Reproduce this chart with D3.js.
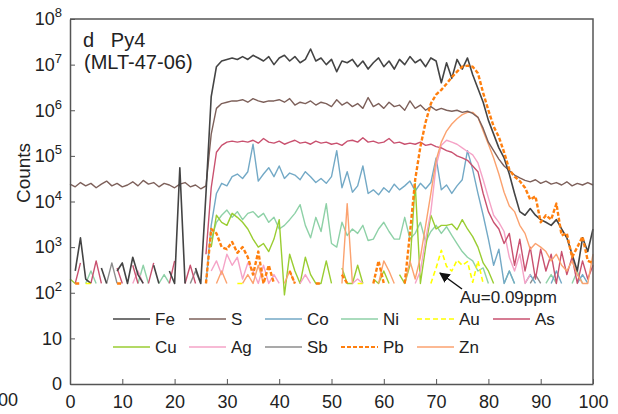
<!DOCTYPE html>
<html>
<head>
<meta charset="utf-8">
<script src="https://cdn.jsdelivr.net/npm/d3@7"></script>
<style>
  body { margin: 0; background: #fff; }
  svg { font-family: "Liberation Sans", Arial, sans-serif; }
</style>
</head>
<body>
<svg width="618" height="414"></svg>
<script>
// acquisition time (s) and signal counts, 0 = no counts (gap on log axis)
var time = [0,1,2,3,4,5,6,7,8,9,10,11,12,13,14,15,16,17,18,19,20,21,22,23,24,25,26,27,28,29,30,31,32,33,34,35,36,37,38,39,40,41,42,43,44,45,46,47,48,49,50,51,52,53,54,55,56,57,58,59,60,61,62,63,64,65,66,67,68,69,70,71,72,73,74,75,76,77,78,79,80,81,82,83,84,85,86,87,88,89,90,91,92,93,94,95,96,97,98,99,100];

var fe = [0,300,1600,200,160,0,350,160,0,300,
  450,160,600,250,160,0,400,160,0,300,
  160,55000,160,0,350,160,15000,2e6,9e6,1.2e7,
  1.3e7,1.4e7,1.3e7,1.5e7,1.3e7,1.6e7,1.4e7,1.2e7,1.5e7,1.0e7,
  1.4e7,1.6e7,1.2e7,1.5e7,1.1e7,1.3e7,2.2e7,1.2e7,1.4e7,1.0e7,
  1.3e7,7e6,1.2e7,1.1e7,1.3e7,9e6,1.2e7,8e6,1.1e7,1.4e7,
  9e6,1.2e7,8e6,1.3e7,1.0e7,1.5e7,1.1e7,1.3e7,9e6,1.4e7,
  1.2e7,4e6,1.1e7,5e6,1.3e7,8e6,1.4e7,6e6,3e6,1.5e6,
  6e5,3e5,1.5e5,9e4,4e4,1.5e4,6e3,5e3,7e3,5e3,
  4e3,3.5e3,3e3,4e3,2.5e3,1.6e3,700,300,1600,800,2500];

var s = [2.4e4,2.1e4,2.6e4,2.2e4,2.5e4,2.0e4,2.4e4,2.8e4,2.2e4,2.5e4,
  2.1e4,2.3e4,2.7e4,2.2e4,2.9e4,2.4e4,2.6e4,2.1e4,2.5e4,2.3e4,
  2.0e4,2.4e4,2.6e4,2.1e4,2.3e4,1.9e4,2.2e4,3e5,1.1e6,1.4e6,
  1.5e6,1.6e6,1.6e6,1.7e6,1.5e6,1.8e6,1.6e6,1.5e6,1.6e6,1.6e6,
  1.7e6,1.5e6,1.8e6,1.3e6,1.5e6,1.4e6,1.6e6,1.3e6,1.5e6,1.4e6,
  1.2e6,1.7e6,1.3e6,1.5e6,1.2e6,1.4e6,1.1e6,1.9e6,1.2e6,1.4e6,
  1.1e6,1.5e6,1.2e6,1.3e6,1.0e6,1.6e6,1.1e6,1.3e6,1.0e6,1.2e6,
  1.0e6,1.1e6,1.0e6,9.5e5,1.0e6,9e5,9.5e5,8.5e5,7e5,4e5,
  2e5,1.3e5,8.5e4,6e4,4.8e4,3.8e4,3.3e4,2.9e4,2.7e4,3.0e4,
  2.5e4,2.8e4,2.4e4,2.6e4,2.3e4,2.7e4,2.2e4,2.5e4,2.3e4,2.6e4,2.3e4];

var co = [0,0,0,0,0,0,0,0,0,0,
  0,0,0,0,0,0,0,0,0,0,
  0,0,0,0,0,0,160,3e3,1.5e4,2.5e4,
  2.2e4,3.5e4,4e4,3.2e4,4.5e4,1.8e5,2.8e4,4e4,5.5e4,3.5e4,
  6e4,3.2e4,4.2e4,3.8e4,3e4,4.5e4,3.5e4,2.6e4,3.2e4,2.5e4,
  3.5e4,1.3e5,2e4,4.5e4,1.6e4,2.2e4,6e4,1.5e4,1.8e4,1.4e4,
  2.0e4,1.6e4,2.4e4,1.8e4,2.2e4,2.8e4,1.7e4,2.5e4,1.9e4,2.6e4,
  9e4,1.8e4,2.3e4,1.5e4,2.2e4,3e4,1.3e5,5e4,1.5e4,5e3,
  1.5e3,400,900,160,300,160,0,160,250,160,
  0,0,160,300,160,0,0,160,250,160,0];

var ni = [0,0,0,160,300,160,0,0,0,0,
  0,0,0,160,400,160,0,160,250,160,
  0,0,0,0,0,0,0,1500,3500,5000,
  6500,4500,6000,4000,5500,6000,4500,5500,3500,4500,
  2500,3000,4000,5500,8500,3000,1600,4500,2200,9000,
  1200,1000,3500,1800,2500,2000,3000,1400,1500,2500,
  3500,2200,1500,1500,4500,1500,2000,3500,1300,2200,
  3000,2000,2800,1800,1200,800,600,500,300,350,
  160,0,0,160,300,160,0,0,160,0,
  0,160,250,160,0,0,160,300,160,0,0];

var au = [0,0,0,160,160,0,0,0,0,0,
  0,0,0,0,0,0,0,0,0,0,
  0,0,0,0,0,0,0,0,0,0,
  0,0,160,160,0,0,0,0,0,0,
  0,0,0,0,0,0,0,0,0,0,
  0,0,0,0,0,160,160,0,0,0,
  0,0,0,0,0,0,0,0,0,160,
  350,850,380,300,520,400,480,170,500,160,
  0,0,0,0,0,0,0,0,0,0,
  0,0,0,0,0,0,0,0,0,0,0];

var as = [0,160,450,0,160,500,160,0,0,350,
  160,0,400,160,0,160,450,0,0,160,
  500,0,160,400,160,0,700,2e4,1.2e5,1.7e5,
  2.0e5,2.1e5,2.0e5,2.1e5,2.0e5,2.2e5,1.9e5,2.4e5,2.0e5,1.9e5,
  2.1e5,1.8e5,2.0e5,2.2e5,1.9e5,2.0e5,1.8e5,2.1e5,1.9e5,2.0e5,
  1.8e5,1.9e5,1.7e5,2.1e5,2.2e5,2.0e5,2.5e5,2.0e5,2.1e5,1.9e5,
  2.0e5,2.4e5,1.9e5,2.0e5,1.8e5,1.9e5,1.8e5,2.0e5,1.7e5,1.8e5,
  1.6e5,1.5e5,1.3e5,1.2e5,1.0e5,9e4,8e4,6e4,4.5e4,1.5e4,
  6e3,3.5e3,2.5e3,1.2e3,2000,400,1500,300,1000,200,
  900,300,700,160,800,250,600,160,500,200,400];

var cu = [200,160,0,0,0,0,0,0,0,0,
  0,0,0,0,0,0,0,0,0,0,
  0,0,0,0,0,0,0,1000,5000,3500,
  3000,5500,4500,3500,2500,1500,1000,1200,800,1500,
  4000,90,700,300,160,600,250,160,160,500,
  160,0,350,160,160,400,160,0,200,160,
  300,160,0,250,160,400,2.5e4,160,1000,5000,
  2500,3000,3000,3200,2400,4000,2500,1700,1000,450,
  300,160,0,0,0,0,0,0,0,0,
  0,0,0,0,0,0,0,0,0,0,0];

var ag = [0,0,0,0,0,0,0,0,0,0,
  0,0,160,300,160,0,0,0,0,0,
  0,0,0,0,0,0,0,300,500,250,
  700,400,600,200,450,300,160,400,160,250,
  160,0,0,0,160,250,160,0,0,0,
  0,0,0,0,160,200,160,0,0,0,
  0,0,0,0,0,0,160,300,1500,6000,
  6e4,1.7e5,2.2e5,2.0e5,1.8e5,1.5e5,1.25e5,1.05e5,7e4,3e4,
  1.2e4,5e3,3.5e3,2.2e3,600,300,700,160,250,0,
  0,160,0,0,0,160,0,0,0,0,0];

var sb = [0,0,0,0,0,0,0,160,450,160,
  0,0,0,0,0,0,0,0,0,0,
  0,0,0,160,300,160,0,0,0,0,
  0,0,0,0,0,0,0,0,0,0,
  0,0,0,0,0,0,0,0,0,0,
  0,0,0,0,0,0,0,0,0,0,
  0,0,0,0,0,0,0,0,0,0,
  0,0,0,0,0,0,0,0,0,0,
  0,0,0,0,0,0,0,0,160,250,
  160,0,0,0,0,0,0,0,0,0,0];

var pb = [0,160,160,0,0,0,0,0,0,160,
  160,0,0,0,0,0,0,0,0,0,
  0,0,0,0,0,0,160,2500,2000,1000,
  900,1300,750,1000,600,250,800,160,400,160,
  0,0,300,160,0,0,0,160,160,0,
  0,0,250,160,0,0,0,0,160,500,
  160,0,0,0,160,2000,3e4,1.6e5,5.5e5,1.4e6,
  2.2e6,2.8e6,3.8e6,5.3e6,7e6,9e6,9.5e6,9e6,6.5e6,2.4e6,
  1e6,4.4e5,2.6e5,1.2e5,5e4,3.5e4,2.8e4,2e4,1.1e4,1.3e4,
  3.5e3,5e3,4e3,9e3,1.8e3,2e3,600,1000,1700,500,450];

var zn = [0,0,0,0,0,0,0,0,0,0,
  0,0,0,0,0,0,0,0,0,0,
  0,0,0,0,0,0,0,0,160,300,
  160,0,0,160,250,160,400,160,0,0,
  0,160,300,160,0,0,160,0,0,0,
  0,0,160,9000,160,0,0,0,0,160,
  500,300,160,0,160,500,200,600,3000,1.5e4,
  8e4,2e5,3.5e5,5e5,6.5e5,8e5,9e5,9e5,7e5,3.5e5,
  1.8e5,9e4,4e4,1.6e4,8e3,6e3,3e3,2e3,900,1200,
  1000,800,500,700,400,300,500,250,160,160,700];

var legendNames = ["Fe", "S", "Co", "Ni", "Au", "As", "Cu", "Ag", "Sb", "Pb", "Zn"];
var yTicks = [1, 10, 100, 1e3, 1e4, 1e5, 1e6, 1e7, 1e8];
var xTicks = [0, 10, 20, 30, 40, 50, 60, 70, 80, 90, 100];

var series = {
    Fe: { values: fe, color: "#444444", width: 1.6 },
    S:  { values: s,  color: "#7d605a", width: 1.4 },
    Co: { values: co, color: "#73a9c6", width: 1.4 },
    Ni: { values: ni, color: "#8ed1a7", width: 1.4 },
    Au: { values: au, color: "#ffff00", width: 1.6, dash: "5,3" },
    As: { values: as, color: "#c9516f", width: 1.4 },
    Cu: { values: cu, color: "#9acd32", width: 1.4 },
    Ag: { values: ag, color: "#f5a3c7", width: 1.4 },
    Sb: { values: sb, color: "#8c8c8c", width: 1.4 },
    Pb: { values: pb, color: "#ff7f0e", width: 2.4, dash: "4,2" },
    Zn: { values: zn, color: "#fba26f", width: 1.4 }
};
var drawOrder = ["Sb", "Ni", "Co", "Cu", "Ag", "As", "Zn", "S", "Fe", "Pb", "Au"];

var svg = d3.select("svg");
var plotLeft = 70, plotRight = 593, plotTop = 19, plotBottom = 384;

var x = d3.scaleLinear().domain([0, 100]).range([plotLeft, plotRight]);
var y = d3.scaleLog().domain([1, 1e8]).range([plotBottom, plotTop]);

var line = d3.line()
    .defined(function (d) { return d.v > 0; })
    .x(function (d) { return x(d.t); })
    .y(function (d) { return y(d.v); });

svg.append("g")
    .attr("class", "signals")
    .selectAll("path")
    .data(drawOrder)
    .enter()
    .append("path")
    .attr("fill", "none")
    .attr("stroke", function (k) { return series[k].color; })
    .attr("stroke-width", function (k) { return series[k].width; })
    .attr("stroke-dasharray", function (k) { return series[k].dash || null; })
    .attr("stroke-linejoin", "round")
    .attr("d", function (k) {
        return line(time.map(function (t, i) { return { t: t, v: series[k].values[i] }; }));
    });

// frame
var axisColor = "#555";
svg.append("path")
    .attr("d", "M" + plotLeft + "," + plotTop + "H" + plotRight + "V" + plotBottom)
    .attr("fill", "none")
    .attr("stroke", axisColor)
    .attr("stroke-width", 1.5);

var yAxis = svg.append("g")
    .attr("transform", "translate(" + plotLeft + ",0)")
    .call(d3.axisLeft(y).tickValues(yTicks).tickSizeInner(-5).tickSizeOuter(0).tickPadding(8));
yAxis.selectAll(".tick text").each(function (d) {
    var e = Math.round(Math.log10(d));
    var t = d3.select(this);
    if (e >= 2) {
        t.text("10");
        t.append("tspan").attr("dy", "-0.6em").attr("font-size", 13).text(e);
    } else {
        t.text(e === 1 ? "10" : "0");
    }
});

var xAxis = svg.append("g")
    .attr("transform", "translate(0," + plotBottom + ")")
    .call(d3.axisBottom(x).tickValues(xTicks).tickSizeInner(-5).tickSizeOuter(0).tickPadding(11).tickFormat(d3.format("d")));

[yAxis, xAxis].forEach(function (g) {
    g.select(".domain").attr("stroke", axisColor).attr("stroke-width", 1.5);
    g.selectAll(".tick line").attr("stroke", axisColor).attr("stroke-width", 1);
    g.selectAll(".tick text").attr("font-size", 18).attr("fill", "#222")
        .attr("font-family", "Liberation Sans, Arial, sans-serif");
});

// clipped leftover label at far left
svg.append("text")
    .attr("x", 18).attr("y", 406)
    .attr("text-anchor", "end")
    .attr("font-size", 18).attr("fill", "#222")
    .text("100");

svg.append("text")
    .attr("transform", "translate(30,173) rotate(-90)")
    .attr("text-anchor", "middle")
    .attr("font-size", 19).attr("fill", "#222")
    .text("Counts");

svg.append("text").attr("x", 83).attr("y", 47).attr("font-size", 20).attr("fill", "#222")
    .attr("xml:space", "preserve").text("d   Py4");
svg.append("text").attr("x", 84).attr("y", 69).attr("font-size", 20).attr("fill", "#222")
    .text("(MLT-47-06)");

// annotation
svg.append("defs").append("marker")
    .attr("id", "arrow").attr("viewBox", "0 0 10 10")
    .attr("refX", 9).attr("refY", 5)
    .attr("markerWidth", 7).attr("markerHeight", 7)
    .attr("orient", "auto")
    .append("path").attr("d", "M0,0L10,5L0,10z").attr("fill", "#111");
svg.append("line")
    .attr("x1", 462).attr("y1", 289).attr("x2", 440).attr("y2", 273)
    .attr("stroke", "#111").attr("stroke-width", 1.5)
    .attr("marker-end", "url(#arrow)");
svg.append("text").attr("x", 460).attr("y", 303).attr("font-size", 17).attr("fill", "#222")
    .text("Au=0.09ppm");

// legend
var legend = svg.append("g").selectAll("g")
    .data(legendNames)
    .enter()
    .append("g")
    .attr("transform", function (d, i) {
        return "translate(" + (113 + (i % 6) * 76) + "," + (319 + Math.floor(i / 6) * 28) + ")";
    });
legend.append("line")
    .attr("x1", 0).attr("x2", 37)
    .attr("stroke", function (d) { return series[d].color; })
    .attr("stroke-width", function (d) { return Math.min(series[d].width, 2); })
    .attr("stroke-dasharray", function (d) { return series[d].dash || null; });
legend.append("text")
    .attr("x", 42).attr("dy", "0.36em")
    .attr("font-size", 17).attr("fill", "#222")
    .text(function (d) { return d; });
</script>
</body>
</html>
